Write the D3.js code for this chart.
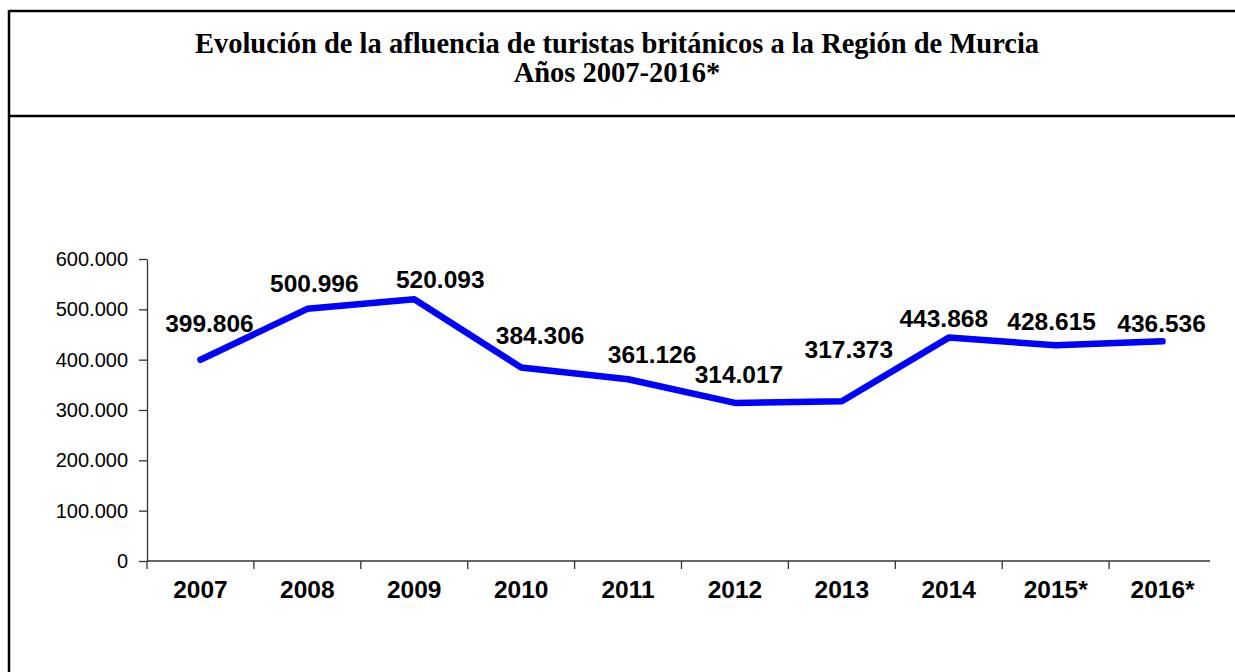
<!DOCTYPE html>
<html>
<head>
<meta charset="utf-8">
<script src="https://cdn.jsdelivr.net/npm/d3@7"></script>
<style>
  body { margin: 0; background: #fff; }
  svg { display: block; }
  .title { font-family: "Liberation Serif", "Times New Roman", serif; font-weight: bold; font-size: 28.5px; }
  .ylab { font-family: "Liberation Sans", Arial, sans-serif; font-size: 20px; fill: #000; }
  .xlab { font-family: "Liberation Sans", Arial, sans-serif; font-size: 24.5px; font-weight: bold; fill: #000; }
  .dlab { font-family: "Liberation Sans", Arial, sans-serif; font-size: 24.5px; font-weight: bold; fill: #000; }
</style>
</head>
<body>
<div id="box-div"></div>
<script>
// data
const years = ['2007', '2008', '2009', '2010', '2011', '2012', '2013', '2014', '2015*', '2016*'];
const tourists = [399806, 500996, 520093, 384306, 361126, 314017, 317373, 443868, 428615, 436536];
const yTicks = [0, 100000, 200000, 300000, 400000, 500000, 600000];
const titleLines = ['Evolución de la afluencia de turistas británicos a la Región de Murcia', 'Años 2007-2016*'];
// label nudges (text centre relative to the point), placed by hand in the original
const labelDx = [9, 7, 26, 19, 24, 4, 7, -5, -4, -1];
const labelDy = [-37, -26, -20, -32, -25, -29, -52, -19, -24, -18];

const dms = { width: 1235, height: 672 };
const plot = { left: 147, right: 1216, top: 259, bottom: 561 };

const svg = d3.select('#box-div').append('svg')
    .attr('width', dms.width)
    .attr('height', dms.height);

// frame
const frame = svg.append('g').attr('stroke', '#000').attr('stroke-width', 2.5);
frame.append('line').attr('x1', 9).attr('y1', 11).attr('x2', dms.width).attr('y2', 11);
frame.append('line').attr('x1', 9).attr('y1', 116).attr('x2', dms.width).attr('y2', 116);
frame.append('line').attr('x1', 9).attr('y1', 10).attr('x2', 9).attr('y2', dms.height);

// title
svg.append('text')
    .attr('class', 'title')
    .attr('text-anchor', 'middle')
    .selectAll('tspan')
    .data(titleLines)
    .join('tspan')
    .attr('x', 617)
    .attr('y', (d, i) => 53 + i * 29)
    .text(d => d);

const x = d3.scaleBand()
    .domain(years)
    .range([plot.left, plot.right]);

const y = d3.scaleLinear()
    .domain([0, 600000])
    .range([plot.bottom, plot.top]);

const fmt = v => v === 0 ? '0' : d3.format(',')(v).replace(/,/g, '.');

// y axis
const yAxis = svg.append('g')
    .attr('transform', `translate(${plot.left},0)`)
    .call(d3.axisLeft(y).tickValues(yTicks).tickSize(8).tickSizeOuter(0).tickFormat(fmt));
yAxis.select('.domain').attr('stroke', '#333').attr('stroke-width', 1.3);
yAxis.selectAll('.tick line').attr('stroke', '#333').attr('stroke-width', 1.3);
yAxis.selectAll('.tick text').attr('class', 'ylab').attr('x', -19).attr('font-family', null).attr('font-size', null);

// x axis, ticks sit between the categories
const xAxis = svg.append('g')
    .attr('transform', `translate(0,${plot.bottom})`);
xAxis.append('line')
    .attr('x1', plot.left).attr('x2', plot.right - 6)
    .attr('stroke', '#333').attr('stroke-width', 1.3);
xAxis.selectAll('.xt')
    .data(years)
    .join('line')
    .attr('class', 'xt')
    .attr('x1', d => x(d)).attr('x2', d => x(d))
    .attr('y1', 0).attr('y2', 8)
    .attr('stroke', '#333').attr('stroke-width', 1.3);
xAxis.selectAll('.xlab')
    .data(years)
    .join('text')
    .attr('class', 'xlab')
    .attr('text-anchor', 'middle')
    .attr('x', d => x(d) + x.bandwidth() / 2)
    .attr('y', 37)
    .text(d => d);

// line
const cx = (d, i) => x(years[i]) + x.bandwidth() / 2;
const lineGen = d3.line()
    .x(cx)
    .y(d => y(d));

svg.append('path')
    .datum(tourists)
    .attr('d', lineGen)
    .attr('fill', 'none')
    .attr('stroke', '#0000ff')
    .attr('stroke-width', 6.5)
    .attr('stroke-linejoin', 'round')
    .attr('stroke-linecap', 'round');

// data labels
svg.selectAll('.dlab')
    .data(tourists)
    .join('text')
    .attr('class', 'dlab')
    .attr('text-anchor', 'middle')
    .attr('x', (d, i) => cx(d, i) + labelDx[i])
    .attr('y', (d, i) => y(d) + labelDy[i])
    .attr('dy', '0.36em')
    .text(d => fmt(d));
</script>
</body>
</html>
